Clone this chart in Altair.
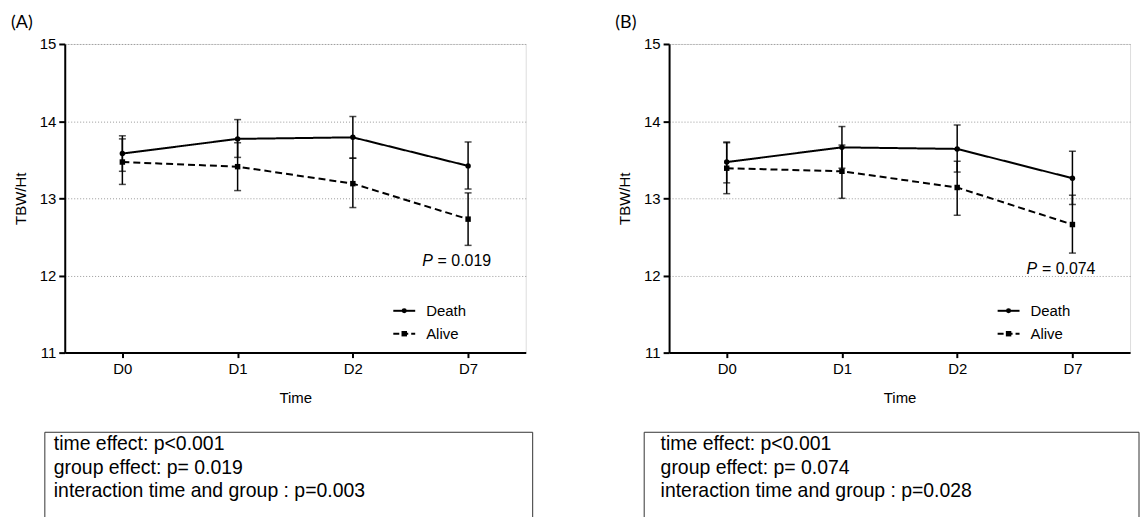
import altair as alt
import pandas as pd

# ---- data ----
times = ["D0", "D1", "D2", "D7"]
groups = ["Death", "Alive"]

a_death_mean = [13.58, 13.77, 13.79, 13.42]
a_death_lo = [13.35, 13.53, 13.52, 13.12]
a_death_hi = [13.81, 14.02, 14.06, 13.73]
a_alive_mean = [13.47, 13.41, 13.19, 12.73]
a_alive_lo = [13.18, 13.10, 12.88, 12.39]
a_alive_hi = [13.77, 13.72, 13.52, 13.07]

b_death_mean = [13.47, 13.66, 13.64, 13.26]
b_death_lo = [13.20, 13.39, 13.34, 12.92]
b_death_hi = [13.73, 13.93, 13.95, 13.61]
b_alive_mean = [13.39, 13.35, 13.14, 12.66]
b_alive_lo = [13.06, 13.00, 12.78, 12.29]
b_alive_hi = [13.72, 13.69, 13.48, 13.04]

y_ticks = [11, 12, 13, 14, 15]
panel_labels = ["(A)", "(B)"]
p_values = ["= 0.019", "= 0.074"]
stats_a = ["time effect: p<0.001", "group effect: p= 0.019", "interaction time and group : p=0.003"]
stats_b = ["time effect: p<0.001", "group effect: p= 0.074", "interaction time and group : p=0.028"]

FONT = "Liberation Sans, Arial, sans-serif"
W, H = 463, 310


def one(text_layer_kwargs, enc):
    return alt.Chart(pd.DataFrame({"k": [0]})).mark_text(**text_layer_kwargs).encode(**enc)


def panel(label, dm, dlo, dhi, am, alo, ahi, pval, stats, box_x, box_x2, text_x):
    rows = []
    for g, m, lo, hi in (("Death", dm, dlo, dhi), ("Alive", am, alo, ahi)):
        for t, mv, l, h in zip(times, m, lo, hi):
            rows.append({"time": t, "group": g, "mean": mv, "lo": l, "hi": h})
    df = pd.DataFrame(rows)

    x = alt.X(
        "time:N", sort=times,
        scale=alt.Scale(type="point", padding=0.5),
        axis=alt.Axis(
            title="Time", labelAngle=0, grid=False,
            domainColor="black", domainWidth=2,
            tickColor="black", tickWidth=2, tickSize=5,
            labelFont=FONT, labelFontSize=15, labelColor="black", labelPadding=4,
            titleFont=FONT, titleFontSize=15, titleFontWeight="normal",
            titleColor="black", titlePadding=14,
        ),
    )
    yscale = alt.Scale(domain=[11, 15], nice=False, zero=False)
    yaxis = alt.Axis(
        title="TBW/Ht", values=y_ticks, format="d",
        grid=True, gridColor="#999999", gridDash=[1, 2], gridWidth=1,
        domainColor="black", domainWidth=2,
        tickColor="black", tickWidth=2, tickSize=6,
        labelFont=FONT, labelFontSize=15, labelColor="black", labelPadding=3,
        titleFont=FONT, titleFontSize=15, titleFontWeight="normal",
        titleColor="black", titlePadding=11,
    )

    base = alt.Chart(df)
    dash = alt.StrokeDash("group:N", scale=alt.Scale(domain=groups, range=[[1, 0], [7, 4]]), legend=None)
    shape = alt.Shape("group:N", scale=alt.Scale(domain=groups, range=["circle", "square"]), legend=None)

    rules = base.mark_rule(color="black", strokeWidth=1.5).encode(
        x=x, y=alt.Y("lo:Q", scale=yscale, axis=yaxis), y2="hi:Q")
    cap_lo = base.mark_tick(color="black", size=7, thickness=1.5).encode(
        x=x, y=alt.Y("lo:Q", scale=yscale, axis=yaxis))
    cap_hi = base.mark_tick(color="black", size=7, thickness=1.5).encode(
        x=x, y=alt.Y("hi:Q", scale=yscale, axis=yaxis))
    lines = base.mark_line(color="black", strokeWidth=2).encode(
        x=x, y=alt.Y("mean:Q", scale=yscale, axis=yaxis), strokeDash=dash, detail="group:N")
    pts = base.mark_point(color="black", filled=True, opacity=1, size=30).encode(
        x=x, y=alt.Y("mean:Q", scale=yscale, axis=yaxis), shape=shape)

    one_row = pd.DataFrame({"k": [0]})
    # legend
    leg = []
    leg.append(alt.Chart(one_row).mark_rule(color="black", strokeWidth=2).encode(
        x=alt.value(330), x2=alt.value(352), y=alt.value(268)))
    leg.append(alt.Chart(one_row).mark_point(color="black", filled=True, opacity=1, shape="circle", size=25).encode(
        x=alt.value(341), y=alt.value(268)))
    leg.append(alt.Chart(one_row).mark_text(text="Death", align="left", baseline="middle", font=FONT,
                                            fontSize=15, color="black").encode(x=alt.value(363), y=alt.value(268)))
    leg.append(alt.Chart(one_row).mark_rule(color="black", strokeWidth=2, strokeDash=[6, 3]).encode(
        x=alt.value(330), x2=alt.value(352), y=alt.value(291)))
    leg.append(alt.Chart(one_row).mark_point(color="black", filled=True, opacity=1, shape="square", size=30).encode(
        x=alt.value(341), y=alt.value(291)))
    leg.append(alt.Chart(one_row).mark_text(text="Alive", align="left", baseline="middle", font=FONT,
                                            fontSize=15, color="black").encode(x=alt.value(363), y=alt.value(291)))

    # p value
    py = 218 if label == "(A)" else 226
    ptxt = [
        alt.Chart(one_row).mark_text(text="P", align="left", baseline="middle", font=FONT, fontSize=16,
                                     fontStyle="italic", color="black").encode(x=alt.value(359), y=alt.value(py)),
        alt.Chart(one_row).mark_text(text=pval, align="left", baseline="middle", font=FONT, fontSize=16,
                                     color="black").encode(x=alt.value(374.5), y=alt.value(py)),
    ]

    # panel label
    lab = alt.Chart(one_row).mark_text(text=label, align="left", baseline="middle", font="Lato, Open Sans, sans-serif",
                                       fontSize=18, color="black").encode(x=alt.value(-54), y=alt.value(-21))

    # stats box
    box = alt.Chart(one_row).mark_rect(fill="transparent", stroke="#333333", strokeWidth=1).encode(
        x=alt.value(box_x), x2=alt.value(box_x2), y=alt.value(390), y2=alt.value(480))
    btxt = alt.Chart(one_row).mark_text(text="\n".join(stats), lineBreak="\n", lineHeight=23.7, align="left",
                                        baseline="alphabetic", font=FONT, fontSize=19.5, color="black").encode(
        x=alt.value(text_x), y=alt.value(408))

    return alt.layer(rules, cap_lo, cap_hi, lines, pts, *leg, *ptxt, lab, box, btxt).properties(width=W, height=H)


pa = panel(panel_labels[0], a_death_mean, a_death_lo, a_death_hi, a_alive_mean, a_alive_lo, a_alive_hi,
           p_values[0], stats_a, -20, 470, -11)
pb = panel(panel_labels[1], b_death_mean, b_death_lo, b_death_hi, b_alive_mean, b_alive_lo, b_alive_hi,
           p_values[1], stats_b, -25, 472, -8.5)

chart = alt.hconcat(pa, pb, spacing=144, bounds="flush").properties(
    padding={"left": 2, "top": 4, "right": 0, "bottom": 0}
).configure_view(strokeWidth=0).configure(background="white")

chart.save("out.html", embed_options={"renderer": "svg", "actions": False})
